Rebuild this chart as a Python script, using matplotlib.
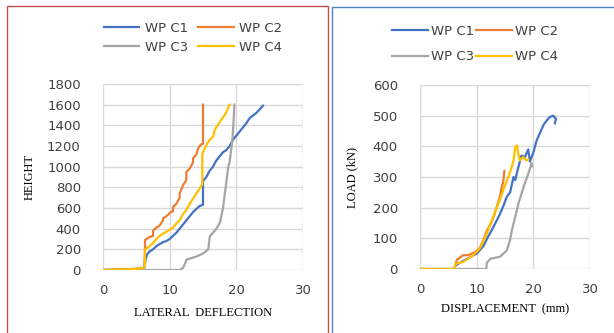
import matplotlib
matplotlib.use("Agg")
import matplotlib.pyplot as plt
from matplotlib.patches import Rectangle

# ---------------- data: left panel (lateral deflection vs height) ----------------
lat_c1_x = [0, 3, 5.5, 6.2, 6.4, 6.6, 7, 7.5, 8, 8.5, 9, 9.5, 10, 10.5, 11, 11.5, 12, 12.5, 13, 13.5, 14, 14.5, 15.0, 15.0,
            15.5, 16, 16.5, 17, 17.5, 18, 18.5, 19, 19.5, 20, 20.5, 21, 21.5, 22, 23, 24]
lat_c1_y = [0, 5, 12, 20, 100, 150, 180, 200, 230, 250, 270, 280, 300, 330, 360, 400, 440, 480, 520, 560, 590, 620, 630, 860,
            900, 960, 1000, 1060, 1100, 1140, 1160, 1200, 1260, 1300, 1340, 1380, 1420, 1470, 1520, 1590]
lat_c2_x = [0, 3, 5.5, 6.1, 6.2, 6.3, 6.3, 7.0, 7.5, 7.5, 8.0, 8.5, 9.0, 9.0, 9.5, 10.0, 10.5, 10.5, 11.0, 11.5, 11.5,
            12.0, 12.5, 12.5, 13.0, 13.5, 13.5, 14.0, 14.3, 14.5, 14.8, 15.0, 15.0]
lat_c2_y = [0, 5, 15, 20, 40, 200, 290, 320, 330, 380, 410, 430, 480, 500, 520, 550, 570, 610, 640, 700, 740,
            820, 870, 950, 980, 1040, 1080, 1120, 1180, 1200, 1220, 1220, 1600]
lat_c3_x = [0, 6, 11.5, 12.0, 12.3, 12.5, 13, 14, 15, 15.8, 16.0, 16.2, 16.5, 17, 17.3, 17.6, 17.8, 18.0, 18.2, 18.4,
            18.6, 18.8, 19.0, 19.2, 19.4, 19.5, 19.6, 19.7]
lat_c3_y = [0, 0, 0, 20, 60, 100, 110, 130, 160, 200, 320, 340, 360, 400, 430, 470, 540, 600, 700, 800,
            900, 1000, 1050, 1150, 1250, 1350, 1450, 1600]
lat_c4_x = [0, 3, 5.5, 6.1, 6.3, 6.3, 7, 7.5, 8, 8.5, 9, 9.5, 10, 10.5, 11, 11.5, 12, 12.5, 13, 13.5, 14, 14.5, 14.9, 14.9,
            15.3, 15.6, 16, 16.5, 16.8, 17.2, 17.5, 18, 18.3, 18.7, 19.0]
lat_c4_y = [0, 5, 12, 20, 40, 200, 230, 260, 300, 330, 350, 370, 390, 410, 450, 480, 540, 580, 640, 690, 740, 790, 830, 1130,
            1180, 1220, 1260, 1290, 1360, 1400, 1430, 1480, 1500, 1560, 1600]

# ---------------- data: right panel (displacement vs load) ----------------
ld_c1_x = [0, 6, 6.2, 7, 8, 9, 10, 10.5, 11.2, 12, 12.9, 14, 14.7, 15.3, 15.9, 16.5, 16.8, 17.4, 17.9, 18.5, 19.1, 19.4,
           20, 20.6, 21.2, 21.8, 22.4, 22.9, 23.5, 24, 23.8]
ld_c1_y = [0, 0, 10, 20, 30, 40, 50, 60, 75, 105, 135, 175, 205, 235, 250, 300, 290, 335, 370, 365, 390, 350,
           380, 420, 445, 470, 485, 495, 500, 490, 475]
ld_c2_x = [0, 6, 6.2, 6.5, 7.6, 8.5, 9.7, 10.6, 11.2, 11.8, 12.4, 13.0, 13.5, 14.1, 14.4, 14.7, 14.9]
ld_c2_y = [0, 0, 10, 30, 45, 45, 55, 70, 95, 125, 145, 170, 200, 235, 265, 285, 320]
ld_c3_x = [0, 11.7, 11.8, 12.4, 14.1, 15.3, 15.9, 16.2, 16.8, 17.4, 17.9, 18.5, 19.1, 19.7, 19.8]
ld_c3_y = [0, 0, 20, 33, 40, 60, 95, 125, 170, 215, 245, 280, 310, 345, 335]
ld_c4_x = [0, 6, 6.3, 7.6, 9.4, 10.6, 11.8, 12.9, 14.1, 15.0, 15.6, 16.2, 16.5, 16.8, 17.1, 17.4, 17.6, 18.2, 18.8, 19.1]
ld_c4_y = [0, 0, 17, 23, 45, 68, 115, 170, 225, 273, 300, 333, 354, 398, 403, 371, 354, 365, 354, 357]

labels = ["WP C1", "WP C2", "WP C3", "WP C4"]
colors = ["#4472C4", "#ED7D31", "#A5A5A5", "#FFC000"]

x_ticks = [0, 10, 20, 30]
left_y_ticks = [0, 200, 400, 600, 800, 1000, 1200, 1400, 1600, 1800]
right_y_ticks = [0, 100, 200, 300, 400, 500, 600]

W, H = 614, 333
fig = plt.figure(figsize=(W / 100, H / 100), dpi=100)

# panel borders
fig.patches.append(Rectangle((7 / W, -0.1), (328 - 7) / W, 1.1 - 6 / H,
                             transform=fig.transFigure, fill=False, edgecolor="#C0504D", linewidth=1.0))
fig.patches.append(Rectangle((332 / W, -0.1), 0.5, 1.1 - 7 / H,
                             transform=fig.transFigure, fill=False, edgecolor="#4F81BD", linewidth=1.0))

axL = fig.add_axes([103 / W, 1 - 270 / H, 200 / W, 186 / H])
axR = fig.add_axes([420 / W, 1 - 269 / H, 170 / W, 184 / H])

serif = "Liberation Serif"


def style(ax, yticks):
    ax.set_xlim(0, 30)
    ax.set_ylim(yticks[0], yticks[-1])
    ax.set_xticks(x_ticks)
    ax.set_yticks(yticks)
    ax.grid(True, color="#D9D9D9", linewidth=1.0)
    ax.set_axisbelow(True)
    for s in ax.spines.values():
        s.set_visible(False)
    ax.tick_params(length=0, labelsize=9.5, colors="#404040", pad=10)
    ax.tick_params(axis="y", pad=16)


leftdata = [(lat_c1_x, lat_c1_y), (lat_c2_x, lat_c2_y), (lat_c3_x, lat_c3_y), (lat_c4_x, lat_c4_y)]
rightdata = [(ld_c1_x, ld_c1_y), (ld_c2_x, ld_c2_y), (ld_c3_x, ld_c3_y), (ld_c4_x, ld_c4_y)]

hL, hR = [], []
for (x, y), lab, c in zip(leftdata, labels, colors):
    hL += axL.plot(x, y, color=c, linewidth=1.6, label=lab, solid_joinstyle="round")
for (x, y), lab, c in zip(rightdata, labels, colors):
    hR += axR.plot(x, y, color=c, linewidth=1.6, label=lab, solid_joinstyle="round")

style(axL, left_y_ticks)
style(axR, right_y_ticks)

axL.set_xlabel("LATERAL  DEFLECTION", fontfamily=serif, fontsize=9, labelpad=7)
axL.set_ylabel("HEIGHT", fontfamily=serif, fontsize=9, labelpad=8)
axR.set_xlabel("DISPLACEMENT  (mm)", fontfamily=serif, fontsize=9, labelpad=5)
axR.set_ylabel("LOAD (kN)", fontfamily=serif, fontsize=9, labelpad=10)

order = [0, 2, 1, 3]  # row-major legend: C1 C2 / C3 C4
legL = axL.legend([hL[i] for i in order], [labels[i] for i in order], ncol=2, loc="center",
                  bbox_to_anchor=(193 / W, 1 - 38 / H), bbox_transform=fig.transFigure,
                  frameon=False, fontsize=9.5, handlelength=2.7, handletextpad=0.4, columnspacing=0.8,
                  labelspacing=0.45, borderpad=0)
legR = axR.legend([hR[i] for i in order], [labels[i] for i in order], ncol=2, loc="center",
                  bbox_to_anchor=(475 / W, 1 - 44 / H), bbox_transform=fig.transFigure,
                  frameon=False, fontsize=9.5, handlelength=2.7, handletextpad=0.2, columnspacing=0.2,
                  labelspacing=0.95, borderpad=0)
for leg in (legL, legR):
    for t in leg.get_texts():
        t.set_color("#404040")

fig.savefig("out.png", dpi=100)
